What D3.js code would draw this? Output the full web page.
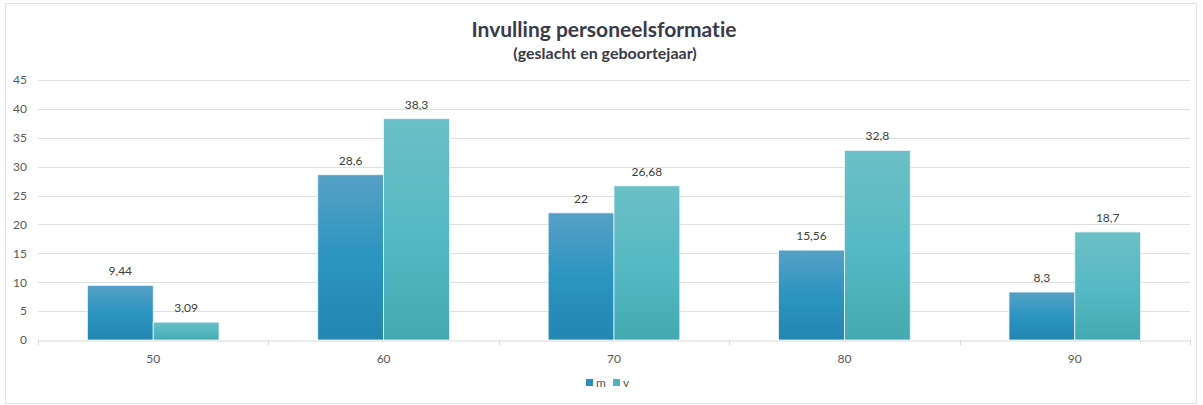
<!DOCTYPE html>
<html><head><meta charset="utf-8">
<script src="https://cdn.jsdelivr.net/npm/d3@7"></script>
<style>body{margin:0;background:#fff;}svg{display:block;font-family:Lato,"Open Sans",sans-serif;font-variant-ligatures:none;}</style>
</head><body>
<svg id="c" width="1203" height="405"></svg>
<script>
const categories = ["50","60","70","80","90"];
const seriesNames = ["m","v"];
const mValues = [9.44,28.6,22,15.56,8.3];
const vValues = [3.09,38.3,26.68,32.8,18.7];
const labelsM = ["9,44","28,6","22","15,56","8,3"];
const labelsV = ["3,09","38,3","26,68","32,8","18,7"];
const yTicks = [0,5,10,15,20,25,30,35,40,45];

const svg = d3.select("#c");
const m={left:38,right:1190,top:80,bottom:340};
svg.append("rect").attr("x",5.5).attr("y",3.5).attr("width",1191).attr("height",400).attr("fill","#fff").attr("stroke","#e3e3e3");

const defs=svg.append("defs");
function grad(id,stops){const g=defs.append("linearGradient").attr("id",id).attr("x1",0).attr("y1",0).attr("x2",0).attr("y2",1);
 stops.forEach((c,i)=>g.append("stop").attr("offset",(i/(stops.length-1)*100)+"%").attr("stop-color",c));}
grad("gm",["#57a0c6","#2b95c0","#2286b0"]);
grad("gv",["#6cbfc6","#56b9c4","#45a9b1"]);

const x=d3.scaleBand().domain(categories).range([m.left,m.right]).paddingInner(0).paddingOuter(0);
const x1=d3.scaleBand().domain(seriesNames).range([0,x.bandwidth()]).paddingInner(0).paddingOuter(0.75);
const y=d3.scaleLinear().domain([0,45]).range([m.bottom,m.top]);

svg.append("g").selectAll("line").data(yTicks.slice(1)).join("line")
 .attr("x1",m.left).attr("x2",m.right).attr("y1",d=>Math.round(y(d))+0.5).attr("y2",d=>Math.round(y(d))+0.5)
 .attr("stroke","#e0e0e0").attr("stroke-width",1);
const ya=svg.append("g").attr("transform",`translate(${m.left-11},0)`).call(d3.axisLeft(y).tickValues(yTicks).tickSize(0).tickPadding(0));
ya.select(".domain").remove();
ya.selectAll("text").attr("font-size",12).attr("fill","#595959").attr("font-family","Lato,sans-serif").attr("text-anchor","end");
const xa=svg.append("g").attr("transform",`translate(0,${m.bottom+0.5})`).call(d3.axisBottom(x).tickSize(0).tickPadding(14));
xa.select(".domain").attr("stroke","#d9d9d9");
xa.selectAll("text").attr("font-size",12).attr("fill","#595959").attr("font-family","Lato,sans-serif");
svg.append("g").selectAll("line").data(d3.range(categories.length+1)).join("line")
 .attr("x1",i=>Math.round(m.left+i*x.bandwidth())+0.5).attr("x2",i=>Math.round(m.left+i*x.bandwidth())+0.5)
 .attr("y1",m.bottom).attr("y2",m.bottom+5).attr("stroke","#d9d9d9");

const data=categories.map((c,i)=>({c,vals:[{s:"m",v:mValues[i],l:labelsM[i]},{s:"v",v:vValues[i],l:labelsV[i]}]}));
const g=svg.append("g").selectAll("g").data(data).join("g").attr("transform",d=>`translate(${x(d.c)},0)`);
g.selectAll("rect").data(d=>d.vals).join("rect")
 .attr("x",d=>x1(d.s)).attr("width",x1.bandwidth()).attr("y",d=>y(d.v)).attr("height",d=>y(0)-y(d.v))
 .attr("fill",d=>d.s==="m"?"url(#gm)":"url(#gv)").attr("stroke","#eef6f8").attr("stroke-width",0.8);
g.selectAll("text").data(d=>d.vals).join("text")
 .attr("x",d=>x1(d.s)+x1.bandwidth()/2).attr("y",d=>y(d.v)-10).attr("text-anchor","middle")
 .attr("font-size",12).attr("fill","#404040").text(d=>d.l);

svg.append("text").attr("x",604).attr("y",37).attr("text-anchor","middle").attr("font-size",21).attr("font-weight","bold").attr("fill","#3a3a48").text("Invulling personeelsformatie");
svg.append("text").attr("x",605).attr("y",58.5).attr("text-anchor","middle").attr("font-size",16).attr("font-weight","bold").attr("fill","#3a3a48").text("(geslacht en geboortejaar)");

const lg=svg.append("g").attr("transform","translate(586,383)");
seriesNames.forEach((s,i)=>{
 const gg=lg.append("g").attr("transform",`translate(${i*27},0)`);
 gg.append("rect").attr("x",0).attr("y",-4).attr("width",7).attr("height",7).attr("fill",i===0?"#2b8fbc":"#4fb4bf");
 gg.append("text").attr("x",10).attr("y",3.5).attr("font-size",12).attr("fill","#595959").text(s);
});
</script>
</body></html>
